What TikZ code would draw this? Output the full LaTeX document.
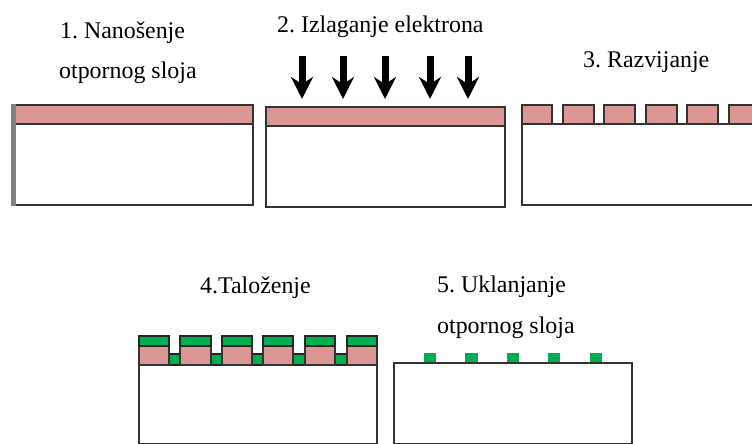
\documentclass[tikz,border=0pt]{standalone}
\usepackage{fontspec}
\setmainfont{Liberation Serif}
\usetikzlibrary{arrows.meta}
\definecolor{resist}{HTML}{DA9694}
\definecolor{metal}{HTML}{00B050}
\definecolor{edge}{HTML}{333333}

\begin{document}
\frenchspacing
\begin{tikzpicture}[x=1pt,y=-1pt,>={Stealth[length=22pt,width=22pt]}]
 \tikzstyle{lbl} = [anchor=base west,inner sep=0,font=\fontsize{23.9}{28}\selectfont]
 \tikzstyle{substrate} = [draw=edge,line width=1.5pt,fill=white]
 \tikzstyle{layer} = [draw=edge,line width=1.5pt,fill=resist]
 \tikzstyle{film} = [draw=black!85,line width=1.2pt,fill=metal]
 \tikzstyle{dot} = [fill=metal]
 \tikzstyle{beam} = [->,line width=7pt,black]

 \clip (0,0) rectangle (752,444);

% Labels
 \node[lbl] (t1) at (60,39) {1. Nanošenje};
 \node[lbl] (t1b) at (59,78) {otpornog sloja};
 \node[lbl] (t2) at (277,33) {2. Izlaganje elektrona};
 \node[lbl] (t3) at (583,67) {3. Razvijanje};
 \node[lbl] (t4) at (200,293) {4.Taloženje};
 \node[lbl] (t5) at (437,292) {5. Uklanjanje};
 \node[lbl] (t5b) at (437,333) {otpornog sloja};

% Step 1
 \draw[substrate] (14,124) rectangle (253,205);
 \draw[layer] (14,105) rectangle (253,124);
 \fill[gray] (11,104) rectangle (15.5,206);

% Step 2
 \draw[substrate] (266,126) rectangle (505,207);
 \draw[layer] (266,107) rectangle (505,126);
 \draw[beam] (302,56) -- (302,99);
 \draw[beam] (343,56) -- (343,99);
 \draw[beam] (385,56) -- (385,99);
 \draw[beam] (430,56) -- (430,99);
 \draw[beam] (468,56) -- (468,99);

% Step 3
 \draw[substrate] (522,124) rectangle (770,205);
 \draw[layer] (522,105) rectangle (552,124);
 \draw[layer] (563,105) rectangle (594,124);
 \draw[layer] (604,105) rectangle (635,124);
 \draw[layer] (646,105) rectangle (677,124);
 \draw[layer] (687,105) rectangle (718,124);
 \draw[layer] (729,105) rectangle (770,124);

% Step 4
 \draw[substrate] (139,365) rectangle (377,444);
 \draw[film] (169,354) rectangle (180,365);
 \draw[film] (211,354) rectangle (222,365);
 \draw[film] (252,354) rectangle (263,365);
 \draw[film] (293,354) rectangle (305,365);
 \draw[film] (335,354) rectangle (347,365);
 \draw[layer] (139,346) rectangle (169,365);
 \draw[layer] (180,346) rectangle (211,365);
 \draw[layer] (222,346) rectangle (252,365);
 \draw[layer] (263,346) rectangle (293,365);
 \draw[layer] (305,346) rectangle (335,365);
 \draw[layer] (347,346) rectangle (377,365);
 \draw[film] (139,336) rectangle (169,346);
 \draw[film] (180,336) rectangle (211,346);
 \draw[film] (222,336) rectangle (252,346);
 \draw[film] (263,336) rectangle (293,346);
 \draw[film] (305,336) rectangle (335,346);
 \draw[film] (347,336) rectangle (377,346);

% Step 5
 \fill[dot] (424,353) rectangle (436,363);
 \fill[dot] (465,353) rectangle (478,363);
 \fill[dot] (507,353) rectangle (519,363);
 \fill[dot] (548,353) rectangle (560,363);
 \fill[dot] (590,353) rectangle (602,363);
 \draw[substrate] (394,363) rectangle (632,444);
\end{tikzpicture}
\end{document}
